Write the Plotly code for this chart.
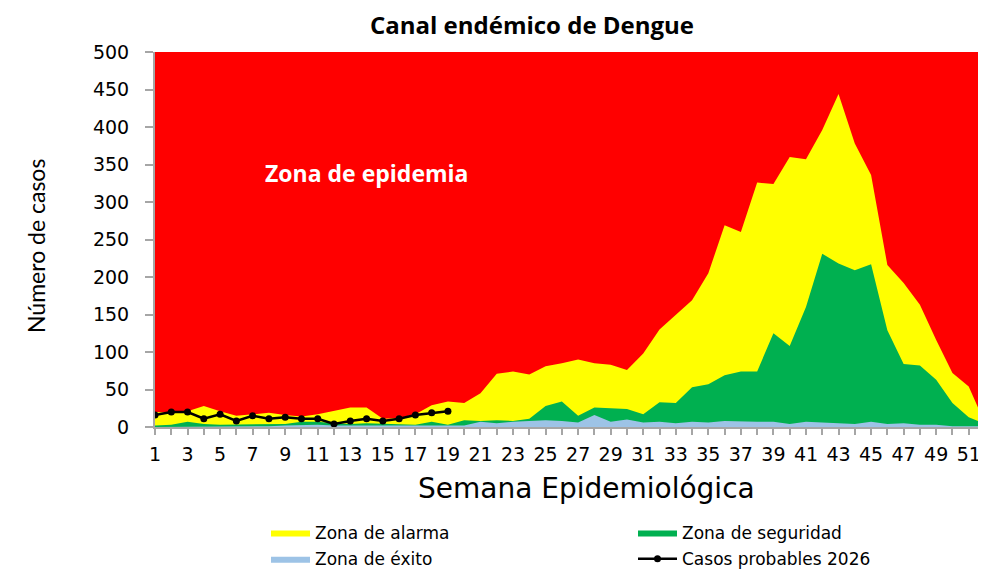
import plotly.graph_objects as go

# Semanas epidemiológicas
semanas = list(range(1, 53))
etiquetas_semana = [str(s) if s % 2 == 1 else "" for s in semanas]

# Límites superiores de cada zona del canal endémico
zona_alarma = [20, 19, 21, 28, 21, 15, 17, 19, 16, 14, 17, 21, 26, 26, 11, 12, 17, 29, 34, 32,
               45, 71, 74, 70, 81, 85, 90, 85, 83, 76, 98, 130, 149, 169, 205, 269, 260, 326,
               324, 360, 357, 396, 444, 378, 336, 216, 192, 163, 116, 72, 54, 5]
zona_seguridad = [2, 3, 7, 4, 3, 3, 3, 3, 4, 7, 7, 5, 4, 5, 4, 4, 3, 7, 3, 9,
                  8, 9, 8, 11, 28, 34, 15, 26, 25, 24, 17, 33, 32, 53, 57, 69, 74, 74,
                  125, 108, 160, 231, 218, 209, 217, 129, 84, 82, 63, 32, 13, 4]
zona_exito = [0, 0, 1, 1, 1, 1, 1, 1, 2, 3, 3, 2, 2, 2, 2, 2, 2, 2, 3, 2,
              7, 5, 7, 8, 9, 8, 6, 16, 7, 10, 6, 7, 5, 7, 6, 8, 7, 7,
              7, 4, 7, 6, 4, 4, 7, 4, 5, 3, 3, 1, 1, 1]

# Casos probables 2026
semanas_2026 = list(range(1, 20))
casos_2026 = [16, 20, 20, 11, 17, 8, 15, 11, 13, 11, 11, 4, 8, 11, 8, 11, 16, 19, 21]

y_ticks = list(range(0, 501, 50))

# page offset (default body margin of the html page)
OFF = 8
W, H = 986 - OFF, 570 - OFF
# target plot area in page pixels: x 155..985, y 52..427
L = 155 - OFF
R = 986 - 985
T = 52 - OFF
B = 570 - 427


def cx(px):
    return (px - OFF) / W


def cy(py):
    return 1 - (py - OFF) / H


fig = go.Figure()
fig.add_trace(go.Scatter(x=semanas, y=zona_alarma, name="Zona de alarma", mode="lines",
                         fill="tozeroy", fillcolor="#FFFF00", line=dict(width=0, color="#FFFF00"),
                         legend="legend", legendgroup="a"))
fig.add_trace(go.Scatter(x=semanas, y=zona_seguridad, name="Zona de seguridad", mode="lines",
                         fill="tozeroy", fillcolor="#00B050", line=dict(width=0, color="#00B050"),
                         legend="legend2", legendgroup="s"))
fig.add_trace(go.Scatter(x=semanas, y=zona_exito, name="Zona de éxito", mode="lines",
                         fill="tozeroy", fillcolor="#9DC3E6", line=dict(width=0, color="#9DC3E6"),
                         legend="legend", legendgroup="e"))
fig.add_trace(go.Scatter(x=semanas_2026, y=casos_2026, name="Casos probables 2026",
                         mode="lines+markers", line=dict(color="black", width=2.5),
                         marker=dict(color="black", size=7), legend="legend2", legendgroup="c"))

tick_font = dict(family="DejaVu Sans", size=19, color="black")
leg_font = dict(family="DejaVu Sans", size=17, color="black")

fig.update_layout(
    width=W, height=H,
    margin=dict(l=L, r=R, t=T, b=B, autoexpand=False),
    paper_bgcolor="white",
    plot_bgcolor="#FF0000",
    title=dict(text="<b>Canal endémico de Dengue</b>", x=cx(532), xanchor="center",
               y=cy(26), yanchor="middle", yref="container", xref="container",
               font=dict(family="Open Sans", size=24, color="black")),
    xaxis=dict(range=[1, 52], tickmode="array", tickvals=semanas, ticktext=etiquetas_semana,
               ticks="outside", ticklen=6, tickcolor="#A6A6A6", tickwidth=1.5,
               showline=True, linecolor="#A6A6A6", linewidth=2, showgrid=False, zeroline=False,
               tickfont=tick_font, ticklabelstandoff=3, tickangle=0, automargin=False),
    yaxis=dict(range=[0, 500], tickmode="array", tickvals=y_ticks,
               ticks="outside", ticklen=8, tickcolor="#A6A6A6", tickwidth=1.5,
               showline=True, linecolor="#A6A6A6", linewidth=2, showgrid=False, zeroline=False,
               tickfont=tick_font, ticklabelstandoff=12, automargin=False),
    legend=dict(orientation="v", xref="container", yref="container",
                x=cx(266), xanchor="left", y=cy(515), yanchor="top",
                font=leg_font, itemwidth=39, bgcolor="rgba(0,0,0,0)",
                traceorder="grouped", tracegroupgap=1),
    legend2=dict(orientation="v", xref="container", yref="container",
                 x=cx(633), xanchor="left", y=cy(515), yanchor="top",
                 font=leg_font, itemwidth=39, bgcolor="rgba(0,0,0,0)",
                 traceorder="grouped", tracegroupgap=1),
    annotations=[
        dict(text="Zona de epidemia", x=cx(263), y=cy(173), xanchor="left", yanchor="middle",
             xref="paper", yref="paper", showarrow=False,
             font=dict(family="Open Sans", size=23, color="white", weight="bold")),
        dict(text="Número de casos", textangle=-90, x=cx(36), y=cy(246),
             xanchor="center", yanchor="middle", showarrow=False,
             font=dict(family="Lato", size=23, color="black")),
        dict(text="Semana Epidemiológica", x=cx(586), y=cy(488),
             xanchor="center", yanchor="middle", showarrow=False,
             font=dict(family="DejaVu Sans", size=28, color="black")),
    ],
)

# annotations positioned in container pixels -> convert to paper coordinates
pw, ph = W - L - R, H - T - B
anns = []
for a in fig.layout.annotations:
    a = a.to_plotly_json()
    px = a["x"] * W
    py = (1 - a["y"]) * H
    a["xref"] = "paper"
    a["yref"] = "paper"
    a["x"] = (px - L) / pw
    a["y"] = (H - B - py) / ph
    anns.append(a)
fig.layout.annotations = anns

fig.write_html("out.html")
